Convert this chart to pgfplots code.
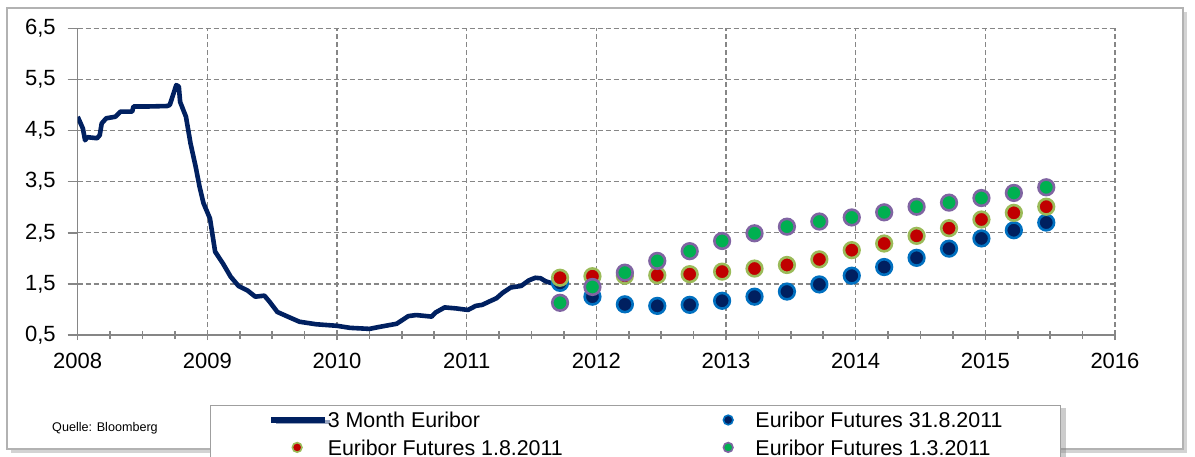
\documentclass[border=0pt]{standalone}
\usepackage{pgfplots}
\pgfplotsset{compat=1.18}
\usepackage{fontspec}
\setmainfont{Liberation Sans}
\usetikzlibrary{shadows}

\definecolor{euribor}{RGB}{0,32,96}
\definecolor{ringblue}{RGB}{0,112,192}
\definecolor{futred}{RGB}{192,0,0}
\definecolor{ringgreen}{RGB}{155,187,89}
\definecolor{futgreen}{RGB}{0,176,80}
\definecolor{ringpurple}{RGB}{128,100,162}
\definecolor{gridgray}{RGB}{134,134,134}

\pgfplotsset{
  marklegend/.style={legend image code/.code={%
    \path (0pt,0pt) (26pt,0pt);
    \draw[##1, mark size=2.4pt, line width=0.8pt] plot coordinates {(13pt,0pt)};}},
  linelegend/.style={legend image code/.code={%
    \draw[euribor, line width=2.6pt] (0pt,0pt)--(27pt,0pt);}},
}

\begin{document}
\begin{tikzpicture}[font=\fontsize{10.8}{12}\selectfont]
% outer frame
\draw[gray!60, line width=0.6pt, fill=white,
      drop shadow={shadow xshift=2pt, shadow yshift=-2pt, opacity=0.35}]
  (3.5pt,-4pt) rectangle (591.5pt,-224.5pt);
\begin{axis}[
  at={(38.85pt,-167.5pt)}, anchor=south west,
  scale only axis, width=518.65pt, height=153.35pt,
  xmin=2008, xmax=2016, ymin=0.5, ymax=6.5,
  xtick={2008,2009,2010,2011,2012,2013,2014,2015,2016},
  xticklabels={2008,2009,2010,2011,2012,2013,2014,2015,2016},
  ytick={0.5,1.5,2.5,3.5,4.5,5.5,6.5},
  yticklabels={{0,5},{1,5},{2,5},{3,5},{4,5},{5,5},{6,5}},
  minor x tick num=3,
  axis lines*=left,
  axis line style={gridgray, line width=0.8pt},
  tick style={gridgray, line width=0.8pt},
  major tick length=5pt, minor tick length=4pt,
  xtick align=center, ytick align=outside,
  xmajorgrids, ymajorgrids,
  major grid style={gridgray, line width=0.7pt, dash pattern=on 2.4pt off 1.6pt},
  tick label style={font=\fontsize{11}{13}\selectfont},
  xticklabel style={yshift=-3pt},
  yticklabel style={xshift=-2.5pt},
  legend columns=2,
  legend cell align=left,
  legend style={at={(0.1275,-0.2282)}, anchor=north west,
    draw=gray!75, line width=0.6pt, fill=white,
    drop shadow={shadow xshift=2.5pt, shadow yshift=-1pt, opacity=0.4},
    inner xsep=29pt, inner ysep=3.35pt, row sep=6pt,
    nodes={inner xsep=0pt, inner ysep=0pt, text height=7.7pt, text depth=0pt},
    /tikz/every even column/.append style={column sep=69pt},
    font=\fontsize{10.7}{12}\selectfont},
]
\addplot[euribor, line width=2.3pt, line join=round, linelegend]
coordinates {
(2008.00,4.77)(2008.04,4.54)(2008.057,4.31)(2008.075,4.37)(2008.15,4.35)
(2008.17,4.41)(2008.185,4.64)(2008.22,4.74)(2008.29,4.77)(2008.33,4.87)
(2008.42,4.87)(2008.43,4.97)(2008.53,4.97)(2008.69,4.98)(2008.71,5.00)
(2008.74,5.23)(2008.76,5.39)(2008.78,5.36)(2008.79,5.06)(2008.835,4.77)
(2008.87,4.25)(2008.91,3.79)(2008.94,3.40)(2008.97,3.08)(2009.02,2.78)
(2009.06,2.13)(2009.12,1.90)(2009.18,1.64)(2009.24,1.46)(2009.31,1.37)
(2009.37,1.25)(2009.44,1.27)(2009.48,1.15)(2009.54,0.95)(2009.62,0.86)
(2009.71,0.76)(2009.84,0.71)(2010.00,0.68)(2010.10,0.64)(2010.25,0.62)
(2010.33,0.66)(2010.46,0.72)(2010.55,0.87)(2010.61,0.89)(2010.73,0.86)
(2010.76,0.94)(2010.83,1.04)(2010.92,1.02)(2011.01,0.99)(2011.07,1.07)
(2011.12,1.09)(2011.17,1.15)(2011.23,1.22)(2011.28,1.33)(2011.34,1.43)
(2011.42,1.46)(2011.48,1.57)(2011.53,1.62)(2011.57,1.61)(2011.61,1.55)
(2011.66,1.51)
};
\addlegendentry{3 Month Euribor}
\addplot[only marks, mark=*, mark size=3.9pt, line width=1.3pt,
  mark options={draw=ringblue, fill=euribor}, marklegend]
coordinates {
(2011.72,1.52)(2011.97,1.25)(2012.22,1.10)(2012.47,1.07)(2012.72,1.09)
(2012.97,1.17)(2013.22,1.25)(2013.47,1.35)(2013.72,1.49)(2013.97,1.66)
(2014.22,1.83)(2014.47,2.01)(2014.72,2.19)(2014.97,2.39)(2015.22,2.55)
(2015.47,2.70)
};
\addlegendentry{Euribor Futures 31.8.2011}
\addplot[only marks, mark=*, mark size=3.9pt, line width=1.3pt,
  mark options={draw=ringgreen, fill=futred}, marklegend]
coordinates {
(2011.72,1.62)(2011.97,1.65)(2012.22,1.66)(2012.47,1.67)(2012.72,1.69)
(2012.97,1.74)(2013.22,1.80)(2013.47,1.87)(2013.72,1.98)(2013.97,2.16)
(2014.22,2.29)(2014.47,2.44)(2014.72,2.59)(2014.97,2.76)(2015.22,2.89)
(2015.47,3.01)
};
\addlegendentry{Euribor Futures 1.8.2011}
\addplot[only marks, mark=*, mark size=3.9pt, line width=1.3pt,
  mark options={draw=ringpurple, fill=futgreen}, marklegend]
coordinates {
(2011.72,1.13)(2011.97,1.44)(2012.22,1.72)(2012.47,1.95)(2012.72,2.14)
(2012.97,2.34)(2013.22,2.49)(2013.47,2.62)(2013.72,2.72)(2013.97,2.80)
(2014.22,2.90)(2014.47,3.01)(2014.72,3.09)(2014.97,3.18)(2015.22,3.28)
(2015.47,3.39)
};
\addlegendentry{Euribor Futures 1.3.2011}
\end{axis}
\node[font=\fontsize{6.3}{7}\selectfont] at (52.5pt,-214pt) {Quelle: Bloomberg};
\pgfresetboundingbox
\useasboundingbox (0pt,0pt) rectangle (597.5pt,-228pt);
\end{tikzpicture}
\end{document}
